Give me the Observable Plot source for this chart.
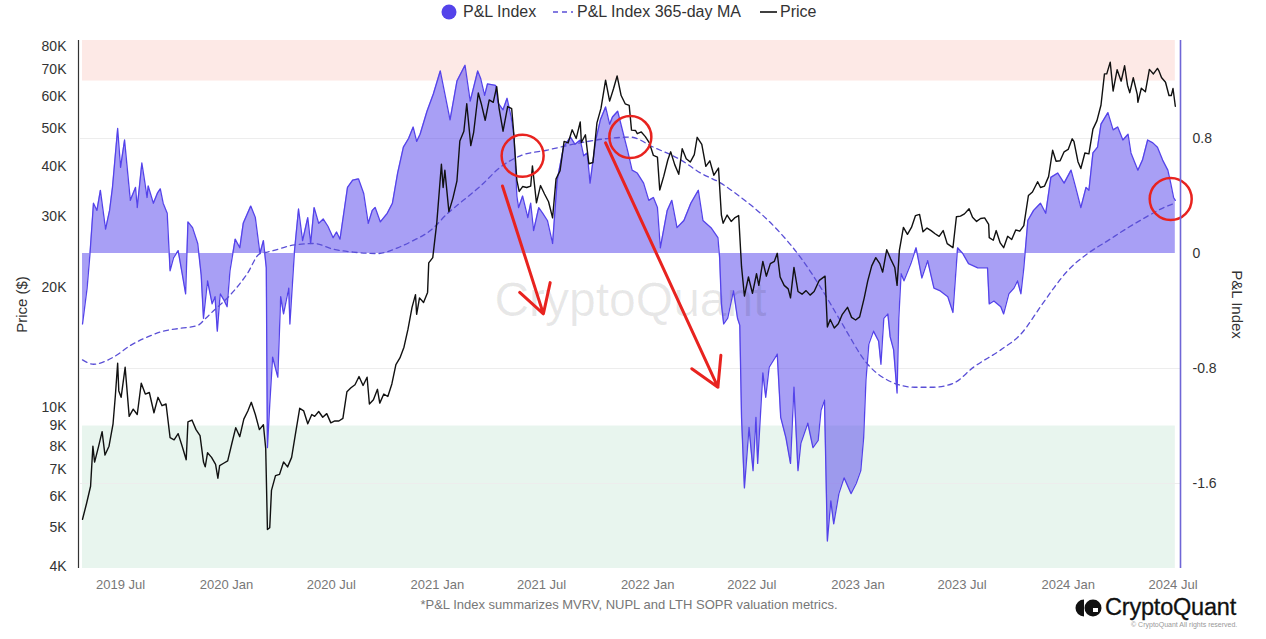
<!DOCTYPE html>
<html><head><meta charset="utf-8">
<script src="https://cdn.jsdelivr.net/npm/d3@7"></script>
<script src="https://cdn.jsdelivr.net/npm/@observablehq/plot@0.6"></script>
<style>
body{margin:0;background:#fff;font-family:"Liberation Sans",Arial,sans-serif;}
#wrap{position:relative;width:1266px;height:639px;overflow:hidden;background:#fff}
.lg{position:absolute;top:3px;font-size:16px;line-height:18px;color:#333;white-space:nowrap}
#chart{position:absolute;top:26px;left:0}
#note{position:absolute;top:597px;left:0;width:1258px;text-align:center;font-size:13px;color:#777}
#logo{position:absolute;top:594px;left:1074px;display:flex;align-items:center;gap:3px}
#logo span{font-size:23.5px;color:#111;letter-spacing:-0.2px;-webkit-text-stroke:0.3px #111}
#copy{position:absolute;top:621px;left:1131px;font-size:7px;color:#999}
</style></head>
<body><div id="wrap">
<svg style="position:absolute;top:4px;left:441px" width="16" height="16"><circle cx="8" cy="8" r="7.5" fill="#5443ea"/></svg>
<div class="lg" style="left:463px">P&amp;L Index</div>
<svg style="position:absolute;top:4px;left:552px" width="22" height="16"><line x1="1" y1="8" x2="21" y2="8" stroke="#5a4fd6" stroke-width="1.6" stroke-dasharray="5,4"/></svg>
<div class="lg" style="left:577px">P&amp;L Index 365-day MA</div>
<svg style="position:absolute;top:4px;left:759px" width="20" height="16"><line x1="1" y1="8" x2="18" y2="8" stroke="#111" stroke-width="1.6"/></svg>
<div class="lg" style="left:780px">Price</div>
<div id="chart"></div>
<div id="note">*P&amp;L Index summarizes MVRV, NUPL and LTH SOPR valuation metrics.</div>
<div id="logo"><svg width="28" height="22"><path d="M10 2.5 A8.5 8.5 0 0 0 10 19.5 Z" fill="#111"/><circle cx="19" cy="11" r="8.5" fill="#111"/><rect x="19" y="11" width="5" height="4" fill="#fff"/></svg><span>CryptoQuant</span></div>
<div id="copy">© CryptoQuant All rights reserved.</div>
</div>
<script>
// ---- Data ----
const priceDates = ["2019-04-26","2019-05-03","2019-05-10","2019-05-14","2019-05-17","2019-05-24","2019-05-30","2019-06-04","2019-06-11","2019-06-18","2019-06-22","2019-06-26","2019-06-28","2019-07-02","2019-07-09","2019-07-16","2019-07-23","2019-07-30","2019-08-06","2019-08-13","2019-08-20","2019-08-28","2019-09-04","2019-09-11","2019-09-18","2019-09-25","2019-10-02","2019-10-09","2019-10-16","2019-10-23","2019-10-26","2019-11-02","2019-11-09","2019-11-16","2019-11-22","2019-11-25","2019-11-29","2019-12-06","2019-12-13","2019-12-17","2019-12-20","2019-12-27","2020-01-03","2020-01-10","2020-01-17","2020-01-24","2020-01-31","2020-02-07","2020-02-13","2020-02-20","2020-02-27","2020-03-05","2020-03-09","2020-03-12","2020-03-16","2020-03-19","2020-03-26","2020-04-02","2020-04-09","2020-04-16","2020-04-23","2020-04-30","2020-05-07","2020-05-14","2020-05-21","2020-05-28","2020-06-02","2020-06-09","2020-06-16","2020-06-23","2020-06-30","2020-07-07","2020-07-14","2020-07-21","2020-07-28","2020-08-04","2020-08-11","2020-08-18","2020-08-25","2020-09-01","2020-09-05","2020-09-12","2020-09-19","2020-09-23","2020-09-30","2020-10-07","2020-10-14","2020-10-21","2020-10-28","2020-11-04","2020-11-11","2020-11-18","2020-11-24","2020-11-26","2020-12-01","2020-12-08","2020-12-15","2020-12-17","2020-12-24","2020-12-31","2021-01-08","2021-01-11","2021-01-14","2021-01-21","2021-01-28","2021-02-04","2021-02-09","2021-02-16","2021-02-21","2021-02-28","2021-03-05","2021-03-13","2021-03-18","2021-03-25","2021-04-01","2021-04-08","2021-04-14","2021-04-18","2021-04-25","2021-05-03","2021-05-10","2021-05-13","2021-05-19","2021-05-23","2021-05-29","2021-06-05","2021-06-12","2021-06-15","2021-06-22","2021-06-29","2021-07-06","2021-07-13","2021-07-20","2021-07-26","2021-08-02","2021-08-09","2021-08-16","2021-08-23","2021-08-30","2021-09-06","2021-09-08","2021-09-15","2021-09-21","2021-09-28","2021-10-05","2021-10-12","2021-10-20","2021-10-27","2021-11-03","2021-11-09","2021-11-16","2021-11-23","2021-11-30","2021-12-04","2021-12-11","2021-12-14","2021-12-21","2021-12-28","2022-01-04","2022-01-11","2022-01-18","2022-01-22","2022-01-29","2022-02-05","2022-02-10","2022-02-17","2022-02-24","2022-03-02","2022-03-09","2022-03-16","2022-03-23","2022-03-28","2022-04-05","2022-04-12","2022-04-19","2022-04-26","2022-05-04","2022-05-09","2022-05-12","2022-05-19","2022-05-26","2022-06-01","2022-06-08","2022-06-13","2022-06-18","2022-06-25","2022-07-02","2022-07-09","2022-07-13","2022-07-20","2022-07-26","2022-08-02","2022-08-09","2022-08-14","2022-08-19","2022-08-26","2022-09-02","2022-09-06","2022-09-12","2022-09-19","2022-09-26","2022-10-03","2022-10-10","2022-10-17","2022-10-26","2022-11-05","2022-11-09","2022-11-14","2022-11-21","2022-11-28","2022-12-05","2022-12-14","2022-12-21","2022-12-28","2023-01-04","2023-01-12","2023-01-18","2023-01-25","2023-02-01","2023-02-08","2023-02-13","2023-02-20","2023-02-27","2023-03-06","2023-03-10","2023-03-14","2023-03-21","2023-03-28","2023-04-04","2023-04-11","2023-04-18","2023-04-24","2023-05-01","2023-05-08","2023-05-15","2023-05-22","2023-05-29","2023-06-05","2023-06-15","2023-06-21","2023-06-28","2023-07-05","2023-07-13","2023-07-19","2023-07-26","2023-08-02","2023-08-09","2023-08-16","2023-08-17","2023-08-24","2023-08-29","2023-09-05","2023-09-11","2023-09-18","2023-09-25","2023-10-02","2023-10-09","2023-10-16","2023-10-24","2023-10-31","2023-11-09","2023-11-14","2023-11-21","2023-11-28","2023-12-05","2023-12-11","2023-12-18","2023-12-25","2024-01-01","2024-01-08","2024-01-11","2024-01-18","2024-01-23","2024-01-30","2024-02-06","2024-02-13","2024-02-20","2024-02-27","2024-03-04","2024-03-08","2024-03-14","2024-03-19","2024-03-26","2024-04-02","2024-04-08","2024-04-13","2024-04-17","2024-04-23","2024-04-30","2024-05-01","2024-05-07","2024-05-14","2024-05-21","2024-05-28","2024-06-04","2024-06-07","2024-06-11","2024-06-18","2024-06-24","2024-06-28","2024-07-01","2024-07-05"];
const priceValues = [5250,5750,6350,8000,7300,8000,8700,7600,8000,9100,10700,12900,11000,10600,12600,9500,9900,9600,11500,10800,10900,9700,10600,10100,10200,8400,8300,8600,8000,7400,9200,9300,8800,8500,7300,7100,7700,7500,7200,6650,7150,7250,7350,8100,8900,8450,9350,9800,10300,9600,8800,9050,7900,4950,5000,6200,6750,6800,7300,7100,7500,8650,9950,9800,9100,9600,9500,9770,9450,9650,9150,9250,9250,9390,10950,11200,11400,11950,11350,11900,10200,10450,11100,10250,10800,10650,11450,12800,13300,14150,15700,17800,19150,17100,18800,18300,19400,23000,23700,29000,40600,35500,39200,30900,33400,36900,46400,49100,57500,45200,48800,61200,57700,52300,58800,58000,63500,56200,49100,56600,55900,49700,37000,34700,35700,35500,35800,40200,32500,35900,34200,32700,29800,37300,39100,46300,45900,49500,47100,51800,46000,48100,40700,41000,51500,56000,65900,58400,62900,67500,60300,57500,57000,49400,49300,48400,48900,47600,45900,42700,42300,35000,37900,41600,43600,40500,38300,44400,41900,41100,42900,47400,45500,40100,41400,38100,39700,30300,28900,30300,29200,29800,30200,22500,19000,21200,19300,21600,20200,23200,21300,22900,23200,24300,21200,20200,19800,18800,22400,19500,19200,19600,19100,19500,20800,21300,15900,16600,15800,16200,17100,17800,16800,16550,16850,18800,20700,22600,23700,22900,21800,24800,23500,22400,20200,24700,28200,27100,28200,30200,30400,27500,28100,27700,27200,26800,27700,25700,25100,30000,30100,30500,31400,29900,29200,29700,29800,28700,26600,26200,27700,25800,25100,26800,26300,27800,27600,28500,33900,34600,36700,35500,35800,37800,44000,41300,41400,43600,44200,47000,46300,41200,39600,43300,43100,49700,52200,57100,68300,68300,73100,61900,70000,65500,71600,64000,61300,66800,60600,58000,62900,61600,70100,68300,70500,69300,66900,65100,60300,60300,62800,56700];

const plDates = ["2019-04-26","2019-05-04","2019-05-09","2019-05-15","2019-05-21","2019-05-27","2019-06-05","2019-06-12","2019-06-17","2019-06-26","2019-07-01","2019-07-08","2019-07-12","2019-07-18","2019-07-27","2019-07-30","2019-08-07","2019-08-12","2019-08-16","2019-08-18","2019-08-27","2019-09-03","2019-09-08","2019-09-13","2019-09-20","2019-09-25","2019-10-01","2019-10-09","2019-10-16","2019-10-22","2019-10-26","2019-11-03","2019-11-12","2019-11-18","2019-11-22","2019-11-29","2019-12-07","2019-12-12","2019-12-16","2019-12-21","2019-12-27","2020-01-02","2020-01-07","2020-01-16","2020-01-24","2020-01-30","2020-02-12","2020-02-20","2020-02-28","2020-03-05","2020-03-10","2020-03-12","2020-03-16","2020-03-21","2020-03-30","2020-04-04","2020-04-09","2020-04-18","2020-04-20","2020-04-28","2020-05-05","2020-05-12","2020-05-21","2020-05-26","2020-06-01","2020-06-09","2020-06-17","2020-06-25","2020-07-04","2020-07-10","2020-07-16","2020-07-29","2020-08-07","2020-08-17","2020-08-26","2020-09-03","2020-09-10","2020-09-15","2020-09-24","2020-10-06","2020-10-15","2020-10-24","2020-11-03","2020-11-12","2020-11-20","2020-11-26","2020-12-02","2020-12-14","2020-12-25","2021-01-06","2021-01-14","2021-01-23","2021-02-04","2021-02-18","2021-02-27","2021-03-12","2021-03-17","2021-03-24","2021-03-29","2021-04-12","2021-04-16","2021-04-25","2021-05-02","2021-05-09","2021-05-14","2021-05-19","2021-05-22","2021-05-29","2021-06-07","2021-06-12","2021-06-17","2021-06-26","2021-07-03","2021-07-11","2021-07-20","2021-07-28","2021-08-08","2021-08-20","2021-08-28","2021-09-06","2021-09-12","2021-09-18","2021-09-23","2021-10-03","2021-10-11","2021-10-20","2021-10-27","2021-11-01","2021-11-10","2021-11-20","2021-11-27","2021-12-05","2021-12-14","2021-12-25","2022-01-03","2022-01-11","2022-01-18","2022-01-23","2022-02-04","2022-02-12","2022-02-21","2022-03-05","2022-03-17","2022-03-30","2022-04-07","2022-04-21","2022-05-03","2022-05-06","2022-05-09","2022-05-13","2022-05-20","2022-05-30","2022-06-06","2022-06-10","2022-06-13","2022-06-18","2022-06-26","2022-07-03","2022-07-08","2022-07-11","2022-07-20","2022-07-25","2022-07-31","2022-08-14","2022-08-20","2022-08-29","2022-09-06","2022-09-12","2022-09-19","2022-09-24","2022-10-06","2022-10-15","2022-10-24","2022-10-29","2022-11-04","2022-11-09","2022-11-15","2022-11-20","2022-11-29","2022-12-08","2022-12-20","2022-12-29","2023-01-06","2023-01-11","2023-01-15","2023-01-20","2023-01-28","2023-02-06","2023-02-10","2023-02-15","2023-02-22","2023-02-26","2023-03-04","2023-03-10","2023-03-13","2023-03-17","2023-03-22","2023-04-03","2023-04-12","2023-04-22","2023-05-02","2023-05-13","2023-05-24","2023-06-06","2023-06-15","2023-06-23","2023-07-02","2023-07-12","2023-07-28","2023-08-14","2023-08-17","2023-08-25","2023-09-06","2023-09-11","2023-09-20","2023-09-29","2023-10-05","2023-10-11","2023-10-16","2023-10-23","2023-11-02","2023-11-14","2023-11-23","2023-12-02","2023-12-14","2023-12-25","2024-01-06","2024-01-14","2024-01-23","2024-02-01","2024-02-06","2024-02-13","2024-02-21","2024-02-27","2024-03-10","2024-03-19","2024-03-27","2024-04-05","2024-04-14","2024-04-19","2024-05-01","2024-05-09","2024-05-18","2024-05-27","2024-06-04","2024-06-13","2024-06-22","2024-06-27","2024-07-02","2024-07-05"];
const plValues = [-0.49,-0.24,0.0,0.35,0.30,0.44,0.17,0.30,0.46,0.87,0.60,0.79,0.62,0.37,0.46,0.32,0.63,0.50,0.39,0.47,0.35,0.42,0.45,0.35,0.28,-0.12,-0.03,0.02,-0.14,-0.28,0.22,0.18,0.07,-0.15,-0.45,-0.19,-0.35,-0.30,-0.54,-0.28,-0.32,-0.37,-0.12,0.10,0.04,0.21,0.33,0.25,0.00,0.09,-0.10,-1.35,-1.05,-0.72,-0.86,-0.30,-0.42,-0.24,-0.49,0.02,0.31,0.09,0.25,0.07,0.32,0.21,0.24,0.19,0.11,0.15,0.10,0.46,0.51,0.52,0.42,0.21,0.30,0.32,0.22,0.28,0.35,0.56,0.74,0.80,0.88,0.78,0.83,0.99,1.11,1.27,1.11,0.93,1.20,1.31,1.06,1.27,1.22,1.10,1.18,1.17,1.05,1.00,1.08,0.95,0.82,0.40,0.32,0.40,0.25,0.35,0.16,0.32,0.28,0.23,0.07,0.51,0.74,0.81,0.76,0.79,0.68,0.70,0.49,0.79,0.93,1.02,0.90,0.95,0.99,0.83,0.72,0.58,0.56,0.49,0.37,0.39,0.32,0.04,0.30,0.37,0.18,0.23,0.35,0.44,0.23,0.18,0.11,-0.03,-0.35,-0.49,-0.45,-0.26,-0.45,-0.50,-1.14,-1.63,-1.21,-1.51,-1.14,-1.46,-0.83,-1.00,-0.79,-0.70,-1.14,-1.28,-1.46,-0.93,-1.51,-1.32,-1.18,-1.35,-1.30,-1.09,-1.02,-2.00,-1.72,-1.88,-1.67,-1.56,-1.67,-1.60,-1.51,-1.28,-0.88,-0.63,-0.54,-0.61,-0.77,-0.45,-0.42,-0.58,-0.67,-0.97,-0.45,-0.14,-0.19,-0.07,0.04,-0.17,-0.05,-0.24,-0.26,-0.30,-0.41,0.04,0.00,-0.07,-0.10,-0.10,-0.35,-0.33,-0.37,-0.42,-0.28,-0.24,-0.19,-0.28,-0.10,0.23,0.30,0.35,0.28,0.53,0.56,0.49,0.58,0.46,0.32,0.46,0.44,0.70,0.74,0.90,0.98,0.86,0.88,0.79,0.83,0.70,0.58,0.65,0.79,0.77,0.74,0.65,0.58,0.49,0.39,0.37];

const maDates = ["2019-04-26","2019-05-15","2019-06-19","2019-07-18","2019-08-17","2019-09-13","2019-10-13","2019-11-12","2019-11-26","2019-12-09","2020-01-07","2020-02-06","2020-02-28","2020-03-12","2020-04-28","2020-06-01","2020-07-04","2020-08-08","2020-09-19","2020-10-24","2020-11-20","2020-12-20","2021-01-19","2021-02-15","2021-03-17","2021-04-20","2021-05-25","2021-07-11","2021-09-06","2021-10-23","2021-12-02","2022-01-11","2022-02-28","2022-04-03","2022-05-08","2022-06-12","2022-07-16","2022-08-20","2022-09-24","2022-10-29","2022-12-02","2023-01-18","2023-03-04","2023-04-09","2023-05-13","2023-06-17","2023-07-21","2023-09-06","2023-10-11","2023-11-14","2023-12-07","2023-12-31","2024-02-04","2024-03-10","2024-04-14","2024-05-18","2024-06-15","2024-07-05"];
const maValues = [-0.74,-0.77,-0.72,-0.64,-0.58,-0.54,-0.52,-0.50,-0.45,-0.40,-0.29,-0.14,0.00,0.01,0.06,0.07,0.03,0.01,0.00,0.04,0.09,0.16,0.28,0.37,0.47,0.60,0.68,0.72,0.77,0.80,0.81,0.74,0.65,0.56,0.49,0.39,0.28,0.14,-0.03,-0.24,-0.47,-0.77,-0.90,-0.93,-0.93,-0.90,-0.79,-0.67,-0.56,-0.37,-0.24,-0.12,0.00,0.09,0.18,0.26,0.32,0.35];

const priceTicks = [4000,5000,6000,7000,8000,9000,10000,20000,30000,40000,50000,60000,70000,80000];
const plTicks = [-1.6,-0.8,0,0.8];
const xTickDates = ["2019-07-01","2020-01-01","2020-07-01","2021-01-01","2021-07-01","2022-01-01","2022-07-01","2023-01-01","2023-07-01","2024-01-01","2024-07-01"];
const bandHigh = 1.2, bandLow = -1.2;
const circleDates = ["2021-05-29","2021-12-02","2024-06-27"];
const circleValues = [0.68,0.81,0.38];
const arrowStartDates = ["2021-04-24","2021-10-20"];
const arrowStartValues = [0.47,0.77];
const arrowEndDates = ["2021-07-04","2022-05-03"];
const arrowEndValues = [-0.42,-0.93];

// ---- Scales linking the two axes ----
const parse = d3.utcParse("%Y-%m-%d");
const yDomain = [3954, 82800];
const plDomain = [-2.191, 1.482];
const L0 = Math.log10(yDomain[0]), L1 = Math.log10(yDomain[1]);
const plToPrice = v => Math.pow(10, L0 + (v - plDomain[0]) / (plDomain[1] - plDomain[0]) * (L1 - L0));

const priceRows = priceDates.map((d, i) => ({date: parse(d), price: priceValues[i]}));
const plRows = plDates.map((d, i) => ({date: parse(d), v: plValues[i]}));
const maRows = maDates.map((d, i) => ({date: parse(d), v: maValues[i]}));
const xTicks = xTickDates.map(parse);
const dStart = parse(plDates[0]), dEnd = parse(plDates[plDates.length - 1]);
const xDomain = [new Date(Date.UTC(2019, 3, 22, 12)), parse("2024-07-14")];
const bands = [
  {x1: dStart, x2: dEnd, y1: plToPrice(bandHigh), y2: yDomain[1], fill: "#fde9e6"},
  {x1: dStart, x2: dEnd, y1: yDomain[0], y2: plToPrice(bandLow), fill: "#e8f5ee"}
];
const circles = circleDates.map((d, i) => ({date: parse(d), v: circleValues[i]}));
const arrows = arrowStartDates.map((d, i) => ({
  x1: parse(d), y1: plToPrice(arrowStartValues[i]),
  x2: parse(arrowEndDates[i]), y2: plToPrice(arrowEndValues[i])
}));

const chart = Plot.plot({
  width: 1266, height: 572,
  marginTop: 14, marginBottom: 30, marginLeft: 80, marginRight: 86,
  style: {fontFamily: "'Liberation Sans', Arial, sans-serif", fontSize: "14px", background: "white", overflow: "visible"},
  x: {type: "utc", domain: xDomain},
  y: {type: "log", domain: yDomain, axis: null},
  marks: [
    Plot.rect(bands, {x1: "x1", x2: "x2", y1: "y1", y2: "y2", fill: "fill"}),
    Plot.ruleY(plTicks.filter(t => t !== 0).map(plToPrice), {stroke: "#ededed"}),
    Plot.areaY(plRows, {x: "date", y1: () => plToPrice(0), y2: d => plToPrice(d.v), fill: "#5846ec", fillOpacity: 0.52}),
    Plot.text(["CryptoQuant"], {text: d => d, frameAnchor: "middle", fontSize: 48, fill: "#000", fillOpacity: 0.09, dy: -4}),
    Plot.lineY(plRows, {x: "date", y: d => plToPrice(d.v), stroke: "#5443ea", strokeWidth: 1.3}),
    Plot.lineY(maRows, {x: "date", y: d => plToPrice(d.v), stroke: "#5a4fd6", strokeWidth: 1.3, strokeDasharray: "5,4", curve: "monotone-x"}),
    Plot.lineY(priceRows, {x: "date", y: "price", stroke: "#111", strokeWidth: 1.4}),
    Plot.dot(circles, {x: "date", y: d => plToPrice(d.v), r: 21, stroke: "#e8231f", strokeWidth: 2.5, fill: "none"}),
    Plot.arrow(arrows, {x1: "x1", y1: "y1", x2: "x2", y2: "y2", stroke: "#e8231f", strokeWidth: 3, headLength: 16}),
    Plot.ruleX([xDomain[0]], {stroke: "#333", strokeWidth: 1.2, dx: -2}),
    Plot.ruleX([xDomain[1]], {stroke: "#6f66d6", strokeWidth: 1.6}),
    Plot.text(priceTicks, {y: d => d, text: d => d / 1000 + "K", frameAnchor: "left", textAnchor: "end", dx: -14, fontSize: 14, fill: "#333"}),
    Plot.text(plTicks, {y: d => plToPrice(d), text: d => String(d), frameAnchor: "right", textAnchor: "start", dx: 12, fontSize: 14, fill: "#333"}),
    Plot.axisX({ticks: xTicks, tickSize: 0, tickPadding: 11, tickFormat: d3.utcFormat("%Y %b"), label: null, fontSize: 13, color: "#777"}),
    Plot.text(["Price ($)"], {text: d => d, frameAnchor: "left", textAnchor: "middle", rotate: -90, dx: -58, fontSize: 15, fill: "#333"}),
    Plot.text(["P&L Index"], {text: d => d, frameAnchor: "right", textAnchor: "middle", rotate: 90, dx: 56, fontSize: 15, fill: "#333"})
  ]
});
document.getElementById("chart").appendChild(chart);
</script>
</body></html>
